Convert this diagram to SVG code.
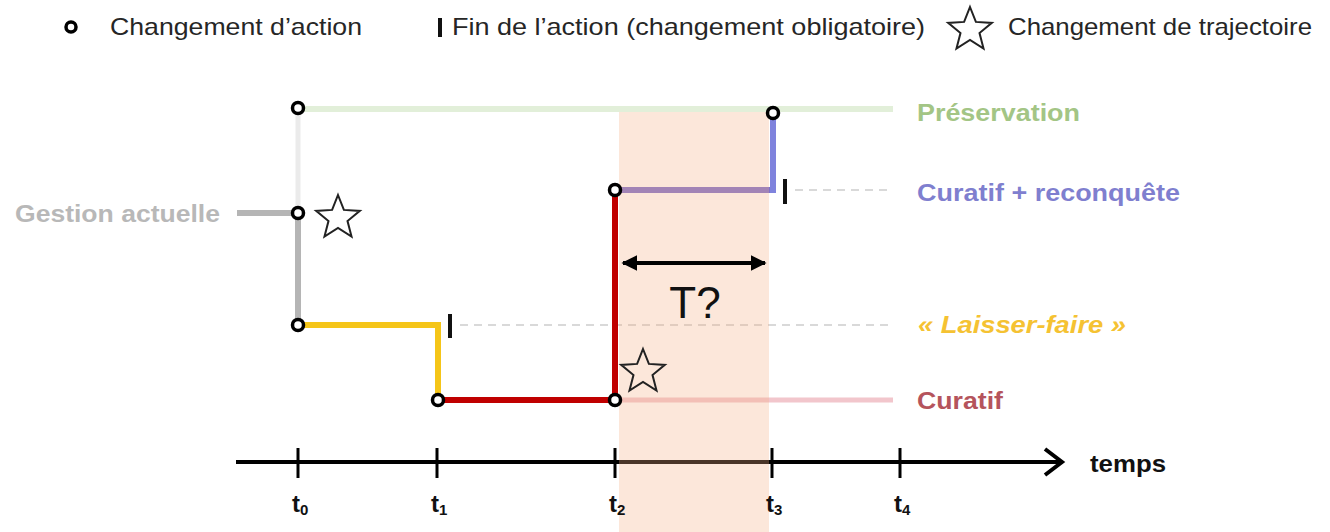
<svg xmlns="http://www.w3.org/2000/svg" xmlns:xlink="http://www.w3.org/1999/xlink" width="1330" height="532" viewBox="0 0 1330 532">
<defs>
<style>
.leg{font-family:"Liberation Sans",Arial,sans-serif;font-size:24px;fill:#262626}
.lab{font-family:"Liberation Sans",Arial,sans-serif;font-size:23px;font-weight:bold}
.tl{font-family:"Liberation Sans",Arial,sans-serif;font-size:24px;font-weight:bold;fill:#111}
.node{fill:#fff;stroke:#000;stroke-width:3.5}
.bar{stroke:#111;stroke-width:4}
.dash{stroke:#d9d9d9;stroke-width:2;stroke-dasharray:8 6;fill:none}
.star{fill:none;stroke:#222;stroke-width:2;stroke-linejoin:miter}
.tick{stroke:#000;stroke-width:3}
</style>
<polygon id="star" points="0,-23 5.88,-8.09 21.87,-7.11 9.51,3.09 13.52,18.61 0,10 -13.52,18.61 -9.51,3.09 -21.87,-7.11 -5.88,-8.09"/>
<marker id="ah" viewBox="0 0 10 10" refX="9" refY="5" markerWidth="4" markerHeight="4" orient="auto-start-reverse">
<path d="M0,0 L10,5 L0,10 z" fill="#000"/>
</marker>
</defs>

<g id="legend">
<circle class="node" cx="71" cy="27" r="5" stroke-width="4"/>
<text class="leg" x="110" y="35" textLength="252" lengthAdjust="spacingAndGlyphs">Changement d’action</text>
<line class="bar" x1="440" y1="18" x2="440" y2="37"/>
<text class="leg" x="452" y="35" textLength="473" lengthAdjust="spacingAndGlyphs">Fin de l’action (changement obligatoire)</text>
<use href="#star" xlink:href="#star" class="star" transform="translate(970,30)"/>
<text class="leg" x="1008" y="35" textLength="304" lengthAdjust="spacingAndGlyphs">Changement de trajectoire</text>
</g>

<g id="connectors">
<line x1="298" y1="109" x2="893" y2="109" stroke="#e2efd9" stroke-width="6"/>
<line x1="298" y1="108" x2="298" y2="213" stroke="#ebebeb" stroke-width="5"/>
<line x1="237" y1="213" x2="298" y2="213" stroke="#b5b5b5" stroke-width="6"/>
<line x1="298" y1="213" x2="298" y2="325" stroke="#b5b5b5" stroke-width="6"/>
<line x1="298" y1="325" x2="441" y2="325" stroke="#f5c518" stroke-width="6"/>
<line x1="438" y1="322" x2="438" y2="400" stroke="#f5c518" stroke-width="6"/>
<line class="dash" x1="460" y1="325" x2="893" y2="325"/>
<line x1="615" y1="400" x2="893" y2="400" stroke="#f2c6cc" stroke-width="5"/>
<line x1="438" y1="400" x2="615" y2="400" stroke="#c00000" stroke-width="6"/>
<line x1="615" y1="400" x2="615" y2="190" stroke="#c00000" stroke-width="6"/>
<line x1="615" y1="190" x2="776" y2="190" stroke="#7e72cc" stroke-width="6"/>
<line x1="773" y1="113" x2="773" y2="193" stroke="#7f83dd" stroke-width="6"/>
<line class="dash" x1="795" y1="190" x2="893" y2="190"/>
<line x1="236" y1="462" x2="1061" y2="462" stroke="#000" stroke-width="4"/>
<polyline points="1045,449 1062,462 1045,475" fill="none" stroke="#000" stroke-width="4"/>
</g>

<g id="ticks">
<line class="tick" x1="298" y1="448" x2="298" y2="478"/>
<line class="tick" x1="437" y1="448" x2="437" y2="478"/>
<line class="tick" x1="615" y1="448" x2="615" y2="478"/>
<line class="tick" x1="772" y1="448" x2="772" y2="478"/>
<line class="tick" x1="900" y1="448" x2="900" y2="478"/>
</g>

<rect id="window" x="619" y="112" width="150" height="420" fill="#f4b183" fill-opacity="0.3"/>

<g id="end-bars">
<line class="bar" x1="450" y1="314" x2="450" y2="338"/>
<line class="bar" x1="785" y1="179" x2="785" y2="204"/>
</g>

<g id="duration">
<line x1="623" y1="263" x2="765" y2="263" stroke="#000" stroke-width="4" marker-start="url(#ah)" marker-end="url(#ah)"/>
<text x="695" y="318" text-anchor="middle" font-family="'Liberation Sans',Arial,sans-serif" font-size="44" fill="#111">T?</text>
</g>

<g id="nodes">
<circle id="n-pres" class="node" cx="298" cy="108" r="5.5"/>
<circle id="n-gest" class="node" cx="298" cy="213" r="5.5"/>
<circle id="n-laiss" class="node" cx="298" cy="325" r="5.5"/>
<circle id="n-t1" class="node" cx="438" cy="400" r="5.5"/>
<circle id="n-t2low" class="node" cx="615" cy="400" r="5.5"/>
<circle id="n-t2up" class="node" cx="615" cy="190" r="5.5"/>
<circle id="n-t3" class="node" cx="773" cy="113" r="5.5"/>
</g>

<g id="stars">
<use href="#star" xlink:href="#star" class="star" transform="translate(338,218)"/>
<use href="#star" xlink:href="#star" class="star" transform="translate(643,372)"/>
</g>

<g id="labels">
<text class="lab" x="15" y="222" fill="#b8b8b8" textLength="205" lengthAdjust="spacingAndGlyphs">Gestion actuelle</text>
<text class="lab" x="917" y="121" fill="#a3c585" textLength="163" lengthAdjust="spacingAndGlyphs">Préservation</text>
<text class="lab" x="917" y="201" fill="#7f7fcf" textLength="263" lengthAdjust="spacingAndGlyphs">Curatif + reconquête</text>
<text class="lab" x="918" y="333" fill="#f5c232" font-style="italic" textLength="208" lengthAdjust="spacingAndGlyphs">« Laisser-faire »</text>
<text class="lab" x="917" y="409" fill="#b5545c" textLength="86" lengthAdjust="spacingAndGlyphs">Curatif</text>
<text class="tl" x="1090" y="472" textLength="76" lengthAdjust="spacingAndGlyphs">temps</text>
</g>

<g id="tick-labels">
<text class="tl" x="292" y="512">t<tspan font-size="15" dy="3">0</tspan></text>
<text class="tl" x="431" y="512">t<tspan font-size="15" dy="3">1</tspan></text>
<text class="tl" x="609" y="512">t<tspan font-size="15" dy="3">2</tspan></text>
<text class="tl" x="766" y="512">t<tspan font-size="15" dy="3">3</tspan></text>
<text class="tl" x="894" y="512">t<tspan font-size="15" dy="3">4</tspan></text>
</g>
</svg>
